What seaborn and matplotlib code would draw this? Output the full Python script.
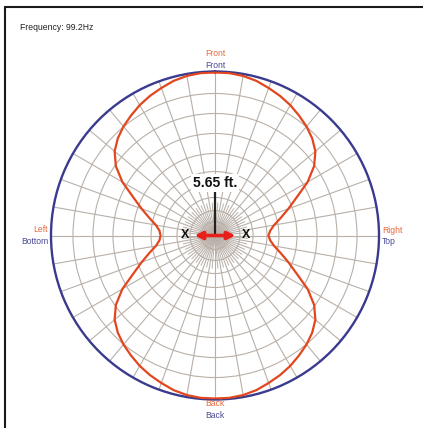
import numpy as np
import pandas as pd
import matplotlib
matplotlib.use("Agg")
import matplotlib.pyplot as plt
from matplotlib.lines import Line2D
import seaborn as sns

# Polar response at 99.2 Hz, relative radius (outer ring = 1.0), every 5 degrees clockwise from Front
angles_deg = list(range(0, 360, 5))
response = [
    0.994, 0.994, 0.988, 0.976, 0.957, 0.939, 0.918, 0.893, 0.868, 0.838,
    0.799, 0.738, 0.652, 0.549, 0.476, 0.415, 0.366, 0.338, 0.326, 0.338,
    0.366, 0.415, 0.476, 0.549, 0.652, 0.738, 0.799, 0.838, 0.868, 0.893,
    0.918, 0.939, 0.957, 0.976, 0.988, 0.994, 0.994, 0.994, 0.988, 0.976,
    0.957, 0.939, 0.918, 0.893, 0.868, 0.838, 0.799, 0.738, 0.652, 0.549,
    0.476, 0.415, 0.366, 0.340, 0.332, 0.340, 0.366, 0.415, 0.476, 0.549,
    0.652, 0.738, 0.799, 0.838, 0.868, 0.893, 0.918, 0.939, 0.957, 0.976,
    0.988, 0.994,
]

ring_levels = [0.085, 0.152, 0.232, 0.317, 0.39, 0.5, 0.622, 0.744, 0.866]
spoke_angles = list(range(0, 360, 10))
inner_spoke_angles = list(range(5, 360, 10))

frequency_label = "Frequency: 99.2Hz"
spacing_label = "5.65 ft."
red_labels = ["Front", "Right", "Back", "Left"]
blue_labels = ["Front", "Top", "Back", "Bottom"]

RED = "#e2461e"
ARROW_RED = "#e8201a"
NAVY = "#3a3a8e"
GRID = "#b9b0a8"
LABEL_RED = "#e4693f"
LABEL_BLUE = "#4a4a96"

sns.set_style("white")
plt.rcParams["font.family"] = ["Liberation Sans", "DejaVu Sans"]

W, H = 423, 428
fig = plt.figure(figsize=(W / 100, H / 100), dpi=100)
fig.patch.set_facecolor("white")

cx, cy, R = 215, 235.5, 164
ax = fig.add_axes([(cx - R) / W, (H - cy - R) / H, 2 * R / W, 2 * R / H],
                  projection="polar")
ax.set_theta_zero_location("N")
ax.set_theta_direction(-1)
ax.set_facecolor("white")

ax.set_xticks(np.deg2rad(spoke_angles))
ax.set_xticklabels([])
ax.set_yticks(ring_levels)
ax.set_yticklabels([])
ax.grid(True, color=GRID, lw=0.8)
ax.spines["polar"].set_color(NAVY)
ax.spines["polar"].set_linewidth(1.7)

# extra short spokes that crowd the middle of the chart
for a in inner_spoke_angles:
    ax.plot([np.deg2rad(a)] * 2, [0, 0.2], color=GRID, lw=0.7, zorder=1)

df = pd.DataFrame({
    "theta": np.deg2rad(angles_deg + [360]),
    "r": response + [response[0]],
})
sns.lineplot(data=df, x="theta", y="r", sort=False, estimator=None,
             color=RED, lw=1.6, ax=ax, zorder=3)
ax.set_xlabel("")
ax.set_ylabel("")
ax.set_ylim(0, 1)

# spacing marker between the two sources
ax.plot([0, 0], [0, 0.27], color="#222222", lw=1.6, zorder=4)
ax.text(0, 0.32, spacing_label, ha="center", va="center", fontsize=10,
        fontweight="bold", color="#111111", zorder=6,
        bbox=dict(boxstyle="square,pad=0.15", fc="white", ec="none"))
ax.annotate("", xy=(np.deg2rad(90), 0.125), xytext=(np.deg2rad(270), 0.125),
            arrowprops=dict(arrowstyle="<|-|>", color=ARROW_RED, lw=2.6,
                            mutation_scale=11, shrinkA=0, shrinkB=0),
            zorder=5)
ax.text(np.deg2rad(270), 0.185, "X", ha="center", va="center", fontsize=9,
        fontweight="bold", color="#111111", zorder=6)
ax.text(np.deg2rad(90), 0.188, "X", ha="center", va="center", fontsize=9,
        fontweight="bold", color="#111111", zorder=6)


def px(x, y):
    return x / W, 1 - y / H


fs = 6.2
fig.text(*px(20, 27), frequency_label, fontsize=fs, color="#222222",
         ha="left", va="center")
# Front
fig.text(*px(215, 54), red_labels[0], fontsize=fs, color=LABEL_RED, ha="center", va="center")
fig.text(*px(215, 65), blue_labels[0], fontsize=fs, color=LABEL_BLUE, ha="center", va="center")
# Right / Top
fig.text(*px(382, 230.5), red_labels[1], fontsize=fs, color=LABEL_RED, ha="left", va="center")
fig.text(*px(382, 241.5), blue_labels[1], fontsize=fs, color=LABEL_BLUE, ha="left", va="center")
# Back
fig.text(*px(215, 404), red_labels[2], fontsize=fs, color=LABEL_RED, ha="center", va="center")
fig.text(*px(215, 415), blue_labels[2], fontsize=fs, color=LABEL_BLUE, ha="center", va="center")
# Left / Bottom
fig.text(*px(48, 230), red_labels[3], fontsize=fs, color=LABEL_RED, ha="right", va="center")
fig.text(*px(48, 241), blue_labels[3], fontsize=fs, color=LABEL_BLUE, ha="right", va="center")

# frame along the top and left edges
fig.add_artist(Line2D([5 / W, 1], [1 - 7 / H, 1 - 7 / H], color="#1a1a1a", lw=1.5))
fig.add_artist(Line2D([5 / W, 5 / W], [0, 1 - 7 / H], color="#1a1a1a", lw=1.5))

fig.savefig("out.png", dpi=100, facecolor="white")
